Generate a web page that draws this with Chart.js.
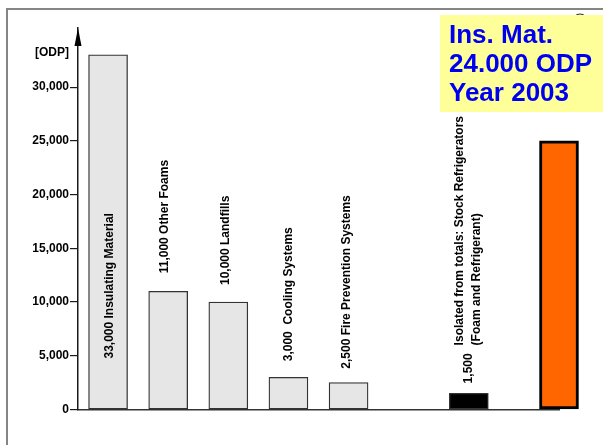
<!DOCTYPE html>
<html>
<head>
<meta charset="utf-8">
<script src="https://cdn.jsdelivr.net/npm/chart.js@4.4.1/dist/chart.umd.min.js"></script>
<style>
  body { margin: 0; background: #fff; }
  #area { width: 603px; height: 445px; position: relative; }
</style>
</head>
<body>
<div id="area"><canvas id="graficoOdp"></canvas></div>
<script>
// Dados do gráfico (posições vazias = espaços entre grupos)
const categorias = ['', 'Insulating Material', '', 'Other Foams', '', 'Landfills', '', 'Cooling Systems', '', 'Fire Prevention Systems', '', '', '', 'Stock Refrigerators', '', '', 'Ins. Mat. 2003'];
const valoresOdp = [null, 33000, null, 11000, null, 10000, null, 3000, null, 2500, null, null, null, 1500, null, null, 25000];
const rotulosBarras = ['', '33,000 Insulating Material', '', '11,000 Other Foams', '', '10,000 Landfills', '', '3,000  Cooling Systems', '', '2,500 Fire Prevention Systems', '', '', '', '1,500', '', '', ''];
const notaEstoque = ['Isolated from totals: Stock Refrigerators', '(Foam and Refrigerant)'];
const textoCaixa = ['Ins. Mat.', '24.000 ODP', 'Year 2003'];
const ticksY = [0, 5000, 10000, 15000, 20000, 25000, 30000];
const unidadeY = '[ODP]';

const FONTE = "'Liberation Sans', Arial, sans-serif";
Chart.defaults.font.family = FONTE;

// cores e bordas de cada barra
const corBarra = valoresOdp.map((v, i) => i === 13 ? '#000000' : (i === 16 ? '#FF6600' : '#E6E6E6'));
const corBorda = valoresOdp.map((v, i) => i === 16 ? '#000000' : '#333333');
const larguraBorda = valoresOdp.map((v, i) => i === 16 ? 3 : 1.3);

// onde fica o texto de cada barra
const posRotulo = {
  1: { base: 51, dx: 1.5 },
  3: { gap: 18, dx: -4 },
  5: { gap: 17, dx: -3 },
  7: { gap: 16, dx: 0 },
  9: { gap: 14, dx: -2 },
  13: { gap: 10, dx: 0 }
};

function formatar(v) {
  return String(v).replace(/\B(?=(\d{3})+(?!\d))/g, ',');
}

function textoVertical(ctx, txt, x, y) {
  ctx.save();
  ctx.translate(x, y);
  ctx.rotate(-Math.PI / 2);
  ctx.textAlign = 'left';
  ctx.textBaseline = 'middle';
  ctx.fillText(txt, 0, 0);
  ctx.restore();
}

const pluginDesenho = {
  id: 'desenho',
  beforeDraw(chart) {
    const ctx = chart.ctx;
    // moldura cinza (topo e esquerda)
    ctx.save();
    ctx.strokeStyle = '#858585';
    ctx.lineWidth = 2;
    ctx.beginPath();
    ctx.moveTo(7, 445);
    ctx.lineTo(7, 9);
    ctx.lineTo(603, 9);
    ctx.stroke();
    ctx.restore();
  },
  afterDatasetsDraw(chart) {
    const ctx = chart.ctx;
    const meta = chart.getDatasetMeta(0);
    const area = chart.chartArea;
    ctx.save();
    ctx.fillStyle = '#000';
    ctx.font = 'bold 12px ' + FONTE;
    Object.keys(posRotulo).forEach(k => {
      const i = Number(k);
      const el = meta.data[i];
      const p = posRotulo[k];
      const y = p.base !== undefined ? area.bottom - p.base : el.y - p.gap;
      textoVertical(ctx, rotulosBarras[i], el.x + p.dx, y);
    });
    // nota da barra preta
    const elPreta = meta.data[13];
    textoVertical(ctx, notaEstoque[0], elPreta.x - 9.5, elPreta.y - 48);
    textoVertical(ctx, notaEstoque[1], elPreta.x + 7.5, elPreta.y - 48);

    // seta do eixo y
    const x0 = area.left;
    ctx.beginPath();
    ctx.moveTo(x0, area.top);
    ctx.lineTo(x0 - 3.5, area.top + 18);
    ctx.lineTo(x0 + 3.5, area.top + 18);
    ctx.closePath();
    ctx.fill();

    // unidade do eixo
    ctx.textAlign = 'right';
    ctx.textBaseline = 'middle';
    ctx.fillText(unidadeY, 69, 53);
    ctx.restore();
  },
  afterDraw(chart) {
    const ctx = chart.ctx;
    ctx.save();
    // pequeno arco no canto
    ctx.strokeStyle = '#333';
    ctx.lineWidth = 1.2;
    ctx.beginPath();
    ctx.arc(580, 21, 7, 0, Math.PI * 2);
    ctx.stroke();
    // caixa amarela
    ctx.fillStyle = '#FFFF99';
    ctx.fillRect(440, 15, 163, 97);
    ctx.fillStyle = '#0000F0';
    ctx.font = 'bold 26px ' + FONTE;
    ctx.textAlign = 'left';
    ctx.textBaseline = 'alphabetic';
    textoCaixa.forEach((t, i) => ctx.fillText(t, 449, 43 + i * 29));
    ctx.restore();
  }
};

new Chart(document.getElementById('graficoOdp').getContext('2d'), {
  type: 'bar',
  data: {
    labels: categorias,
    datasets: [{
      data: valoresOdp,
      backgroundColor: corBarra,
      borderColor: corBorda,
      borderWidth: larguraBorda,
      borderSkipped: false,
      barThickness: 39,
      clip: false
    }]
  },
  options: {
    responsive: true,
    maintainAspectRatio: false,
    animation: false,
    layout: { padding: { top: 28, right: 44, bottom: 35.5, left: 0 } },
    plugins: { legend: { display: false }, tooltip: { enabled: false } },
    scales: {
      x: {
        type: 'category',
        offset: false,
        afterFit: s => { s.height = 0; },
        grid: { display: false },
        ticks: { display: false },
        border: { display: true, color: '#333', width: 1.5 }
      },
      y: {
        min: 0,
        max: 35500,
        afterBuildTicks: s => { s.ticks = ticksY.map(v => ({ value: v })); },
        afterFit: s => { s.width = 78; },
        border: { display: true, color: '#1a1a1a', width: 1.5 },
        grid: { display: true, drawOnChartArea: false, drawTicks: true, tickLength: 8, color: '#1a1a1a', lineWidth: 1.2 },
        ticks: {
          padding: 1,
          color: '#000',
          font: { size: 12, weight: 'bold' },
          callback: v => formatar(v)
        }
      }
    }
  },
  plugins: [pluginDesenho]
});
</script>
</body>
</html>
